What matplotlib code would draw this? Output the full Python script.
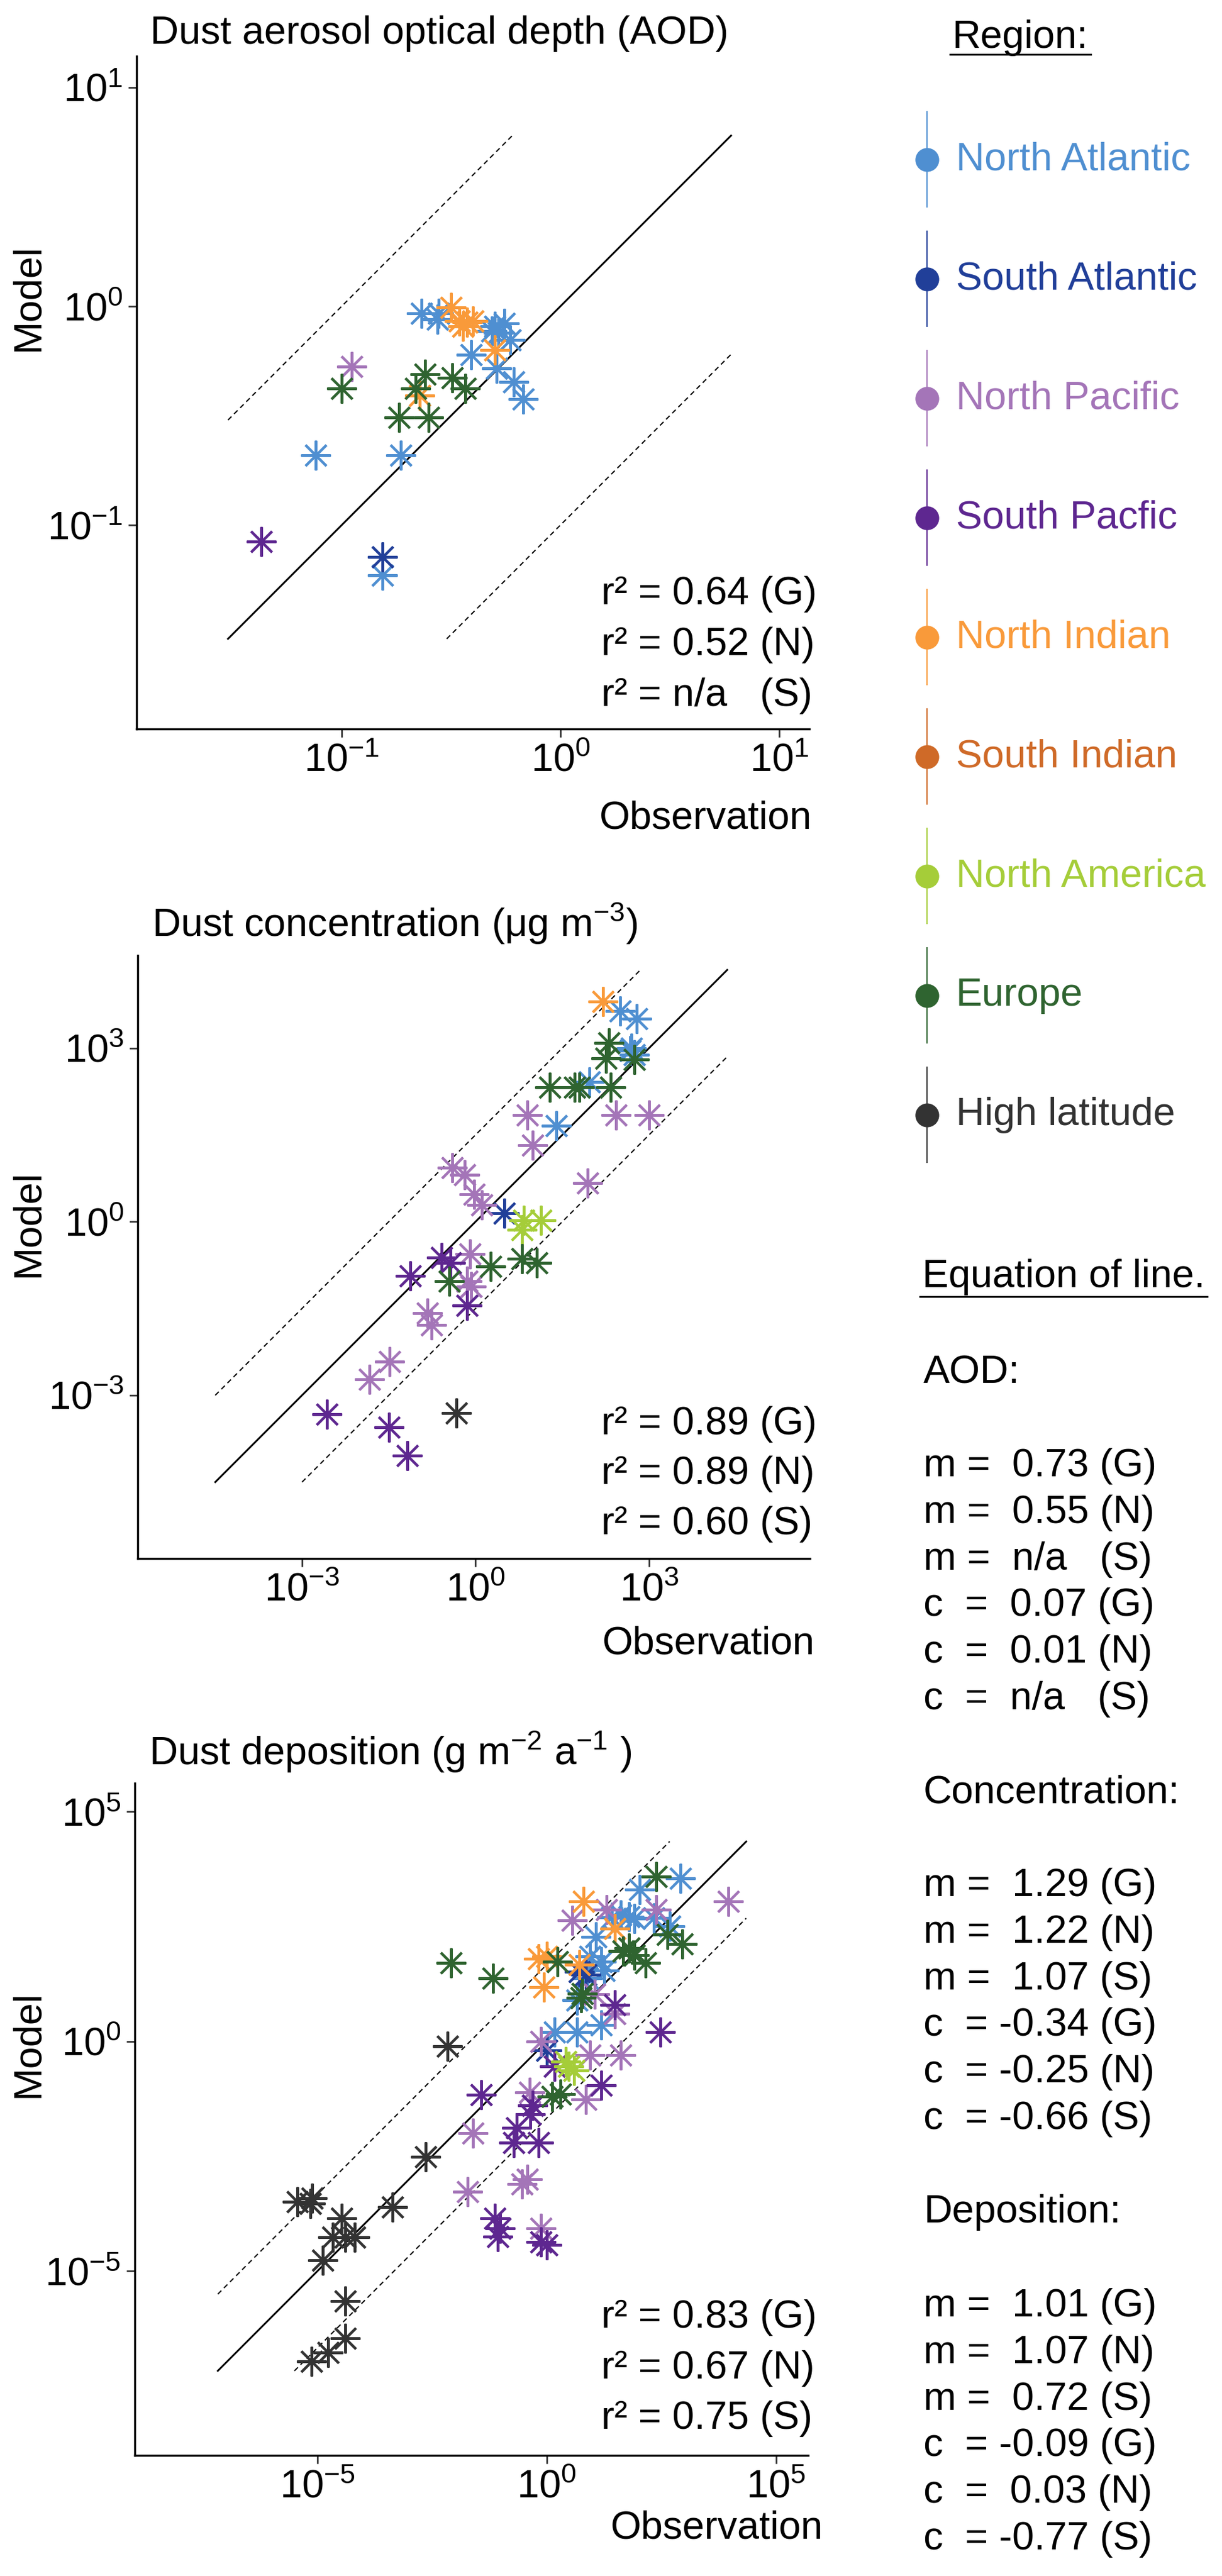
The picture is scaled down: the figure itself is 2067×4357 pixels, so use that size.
import numpy as np
import matplotlib.pyplot as plt
from matplotlib.markers import MarkerStyle
from matplotlib.ticker import NullLocator

plt.rcParams['font.family'] = ['Liberation Sans', 'DejaVu Sans']
plt.rcParams['mathtext.fontset'] = 'custom'
plt.rcParams['mathtext.rm'] = 'Liberation Sans'
plt.rcParams['mathtext.it'] = 'Liberation Sans:italic'
plt.rcParams['mathtext.bf'] = 'Liberation Sans:bold'

# regions (legend order) and colours
region_codes = ['NA', 'SA', 'NP', 'SP', 'NI', 'SI', 'NAm', 'EU', 'HL']
region_names = ['North Atlantic', 'South Atlantic', 'North Pacific', 'South Pacfic',
                'North Indian', 'South Indian', 'North America', 'Europe', 'High latitude']
region_colors = ['#4F8FD1', '#213F99', '#A475B8', '#5E2790',
                 '#F99A3A', '#CF6A28', '#A5CD39', '#2F6430', '#333333']

# --- AOD panel ---
aod_region = ['NA'] * 15 + ['SA'] + ['NP'] + ['SP'] + ['NI'] * 7 + ['EU'] * 7
aod_obs = [0.232, 0.277, 0.274, 0.50, 0.553, 0.52, 0.59, 0.39, 0.51, 0.61, 0.676, 0.486,
           0.076, 0.186, 0.154,
           0.154, 0.111, 0.0429,
           0.316, 0.345, 0.374, 0.398, 0.358, 0.50, 0.227,
           0.24, 0.32, 0.367, 0.218, 0.25, 0.10, 0.183]
aod_mod = [0.93, 0.93, 0.87, 0.81, 0.835, 0.755, 0.70, 0.60, 0.52, 0.45, 0.377, 0.77,
           0.209, 0.209, 0.0588,
           0.0714, 0.53, 0.0838,
           0.99, 0.855, 0.845, 0.855, 0.81, 0.63, 0.39,
           0.49, 0.47, 0.42, 0.42, 0.31, 0.42, 0.31]

# --- concentration panel ---
conc_region = ['NI'] + ['NA'] * 7 + ['EU'] * 11 + ['NP'] * 16 + ['SA'] + ['NAm'] * 3 + ['SP'] * 7 + ['HL']
conc_obs = [158,
            316, 617, 490, 93, 25, 550, 470,
            200, 178, 550, 19, 52, 63, 219, 1.82, 0.355, 6.3, 11.5,
            7.9, 9.8, 269, 1000, 87, 0.40, 0.65, 0.95, 1.29, 0.81, 0.72, 0.83, 0.148, 0.174, 0.033, 0.0145,
            3.1,
            6.3, 6.8, 13.5,
            0.074, 0.257, 0.37, 0.72, 0.0027, 0.032, 0.066,
            0.47]
conc_mod = [6300,
            4370, 3240, 1000, 257, 46, 760, 900,
            1230, 660, 630, 209, 209, 209, 209, 0.17, 0.093, 0.229, 0.195,
            69, 21, 69, 69, 4.6, 8.5, 6.5, 2.95, 1.95, 0.275, 0.093, 0.076, 0.026, 0.0166, 0.0038, 0.0019,
            1.41,
            0.72, 1.05, 1.05,
            0.115, 0.24, 0.195, 0.036, 0.00047, 0.00028, 0.000091,
            0.00049]

# --- deposition panel ---
dep_region = ['HL'] * 15 + ['EU'] * 14 + ['NA'] * 17 + ['NI'] * 6 + ['NP'] * 17 + ['SP'] * 15 + ['SA'] * 3 + ['NAm'] * 3
dep_obs = [3.7e-6, 7.8e-6, 7.1e-6, 3.4e-5, 2.2e-5, 4.1e-5, 6.6e-5, 1.3e-5, 4.1e-5, 4.1e-5, 1.7e-5, 7.4e-6,
           4.3e-4, 2.3e-3, 6.8e-3,
           8.3e-3, 0.068, 1.7, 6.0, 5.6, 47, 62, 81, 141, 245, 427, 912, 1.3, 2.0,
           832, 107, 41, 62, 81, 214, 479, 11.7, 8.9, 15.5, 7.8, 4.6, 15.5, 4.6, 1.5, 26, 18,
           6.3, 31, 0.66, 1.0, 0.87, 5.2,
           3.6, 20, 245, 9100, 11, 31, 0.76, 8.9, 41, 7.2, 0.42, 0.5, 0.025, 0.019, 0.29, 0.38, 0.76,
           31, 302, 1.5, 15.5, 0.037, 0.44, 0.22, 0.19, 0.66, 0.074, 0.098, 0.085, 0.76, 1.0, 0.5,
           5.2, 1.0, 7.1,
           3.0, 4.0, 2.6]
dep_mod = [3.2e-4, 3.9e-4, 3.0e-4, 1.4e-4, 5.4e-5, 5.4e-5, 5.4e-5, 1.7e-5, 2.2e-6, 3.5e-7, 1.7e-7, 1.1e-7,
           2.5e-4, 3.1e-3, 0.79,
           51, 24, 54, 11, 8.9, 93, 107, 76, 51, 3900, 214, 132, 0.063, 0.072,
           3550, 2040, 562, 513, 468, 490, 324, 186, 71, 54, 24, 7.9, 2.3, 1.6, 1.6, 500, 35,
           1120, 282, 62, 71, 15, 47,
           427, 741, 741, 1120, 10.5, 4.0, 1.0, 0.5, 0.5, 0.055, 0.078, 0.04, 0.01, 5.4e-4, 7.8e-4, 1.0e-3, 8.5e-5,
           6.3, 1.6, 0.29, 0.11, 0.069, 0.026, 0.013, 6.2e-3, 6.2e-3, 1.4e-4, 8.5e-5, 5.6e-5, 4.3e-5, 3.7e-5, 0.04,
           33, 0.63, 28,
           0.29, 0.23, 0.36]

r2_aod = ['0.64', '0.52', 'n/a']
r2_conc = ['0.89', '0.89', '0.60']
r2_dep = ['0.83', '0.67', '0.75']

eq_aod_m = ['0.73', '0.55', 'n/a']
eq_aod_c = ['0.07', '0.01', 'n/a']
eq_conc_m = ['1.29', '1.22', '1.07']
eq_conc_c = ['-0.34', '-0.25', '-0.66']
eq_dep_m = ['1.01', '1.07', '0.72']
eq_dep_c = ['-0.09', '0.03', '-0.77']

W, H = 2067, 4357
fig = plt.figure(figsize=(W / 100, H / 100), dpi=100)
FS = 48

ov = fig.add_axes([0, 0, 1, 1])
ov.set_xlim(0, W)
ov.set_ylim(H, 0)
ov.axis('off')
ov.set_zorder(10)


def px_axes(left, top, w, h):
    return fig.add_axes([left / W, 1 - (top + h) / H, w / W, h / H])


star = MarkerStyle((8, 2, 0), capstyle='round')


def panel(box, lims, ticks, ticklabels, line_lo, line_hi, fac, regions, obs, mod):
    ax = px_axes(*box)
    ax.patch.set_alpha(0)
    ax.set_xscale('log')
    ax.set_yscale('log')
    ax.set_xlim(10 ** lims[0], 10 ** lims[1])
    ax.set_ylim(10 ** lims[2], 10 ** lims[3])
    for s in ['top', 'right']:
        ax.spines[s].set_visible(False)
    for s in ['left', 'bottom']:
        ax.spines[s].set_linewidth(2.5)
    ax.set_xticks(ticks)
    ax.set_xticklabels(ticklabels)
    ax.set_yticks(ticks)
    ax.set_yticklabels(ticklabels)
    ax.xaxis.set_minor_locator(NullLocator())
    ax.yaxis.set_minor_locator(NullLocator())
    ax.tick_params(length=10, width=2, color='#333333', labelsize=FS, pad=7)
    lo, hi = 10 ** line_lo, 10 ** line_hi
    ax.plot([lo, hi], [lo, hi], color='black', lw=2.2, zorder=1)
    ax.plot([lo, hi / fac], [lo * fac, hi], color='black', lw=1.5, dashes=(4, 3), zorder=1)
    ax.plot([lo * fac, hi], [lo, hi / fac], color='black', lw=1.5, dashes=(4, 3), zorder=1)
    regions = np.array(regions)
    obs = np.array(obs)
    mod = np.array(mod)
    for code, col in zip(region_codes, region_colors):
        sel = regions == code
        if sel.any():
            ax.plot(obs[sel], mod[sel], ls='none', marker=star, ms=36, mew=2.9, color=col, zorder=3)
    return ax


def sup(e):
    return r'$\mathregular{10^{%d}}$' % e


panel((231, 95, 1138, 1138), (-1.938, 1.138, -1.932, 1.143), [0.1, 1, 10], [sup(-1), sup(0), sup(1)],
      -1.52, 0.78, 10.0, aod_region, aod_obs, aod_mod)
panel((233, 1616, 1137, 1020), (-5.84, 5.78, -5.82, 4.60), [1e-3, 1, 1e3], [sup(-3), sup(0), sup(3)],
      -4.5, 4.35, 10 ** 1.5, conc_region, conc_obs, conc_mod)
panel((228, 3016, 1139, 1137), (-8.98, 5.70, -9.01, 5.62), [1e-5, 1, 1e5], [sup(-5), sup(0), sup(5)],
      -7.17, 4.35, 10 ** 1.67, dep_region, dep_obs, dep_mod)

# titles
ov.text(254, 74, 'Dust aerosol optical depth (AOD)', fontsize=FS, va='baseline')
ov.text(257, 1584, r'Dust concentration (μg m$\mathregular{^{-3}}$)', fontsize=FS, va='baseline')
ov.text(252, 2985, r'Dust deposition (g m$\mathregular{^{-2}}$ a$\mathregular{^{-1}}$ )', fontsize=FS, va='baseline')

# axis labels
for y in [503, 2069, 3457]:
    ov.text(48, y, 'Model', fontsize=FS, rotation=90, ha='center', va='center')
for x, y in [(1373, 1385), (1378, 2781), (1392, 4277)]:
    ov.text(x, y, 'Observation', fontsize=FS, ha='right', va='center')

# r2 annotations
tags = ['G', 'N', 'S']
for vals, ys in [(r2_aod, [1005, 1091, 1177]), (r2_conc, [2409, 2493, 2578]), (r2_dep, [3920, 4006, 4091])]:
    for v, t, y in zip(vals, tags, ys):
        v = v if v != 'n/a' else 'n/a  '
        ov.text(1017, y, 'r² = %s (%s)' % (v, t), fontsize=FS, va='center')

# region legend
hdr = ov.text(1611, 64, 'Region:', fontsize=FS, va='center')
for i, (name, col) in enumerate(zip(region_names, region_colors)):
    yc = 270 + i * 202
    ov.plot([1568, 1568], [yc - 81, yc + 80], color=col, lw=1.5)
    ov.plot([1568], [yc], marker='o', ms=29, color=col, mew=0)
    ov.text(1617, yc, name, fontsize=FS, color=col, va='center')

# equation of line block
hdr2 = ov.text(1560, 2160, 'Equation of line.', fontsize=FS, va='center')


def eq_line(kind, v, t):
    if v == 'n/a':
        v = ' n/a  '
    elif not v.startswith('-'):
        v = ' ' + v
    lead = 'm =' if kind == 'm' else 'c  ='
    return '%s %s (%s)' % (lead, v, t)


blocks = [('AOD:', 2322, eq_aod_m, eq_aod_c, 2480),
          ('Concentration:', 3033, eq_conc_m, eq_conc_c, 3190),
          ('Deposition:', 3742, eq_dep_m, eq_dep_c, 3901)]
for head, yh, ms_, cs_, y0 in blocks:
    ov.text(1562, yh, head, fontsize=FS, va='center')
    lines = [eq_line('m', v, t) for v, t in zip(ms_, tags)] + [eq_line('c', v, t) for v, t in zip(cs_, tags)]
    for j, s in enumerate(lines):
        ov.text(1562, y0 + j * 78.8, s, fontsize=FS, va='center')

# underlines
fig.canvas.draw()
inv = ov.transData.inverted()
for t, yu in [(hdr, 92), (hdr2, 2193)]:
    bb = t.get_window_extent()
    x0 = inv.transform((bb.x0, bb.y0))[0]
    x1 = inv.transform((bb.x1, bb.y0))[0]
    ov.plot([x0 - 4, x1 + 4], [yu, yu], color='black', lw=2.2)

fig.savefig('out.png', dpi=100)
